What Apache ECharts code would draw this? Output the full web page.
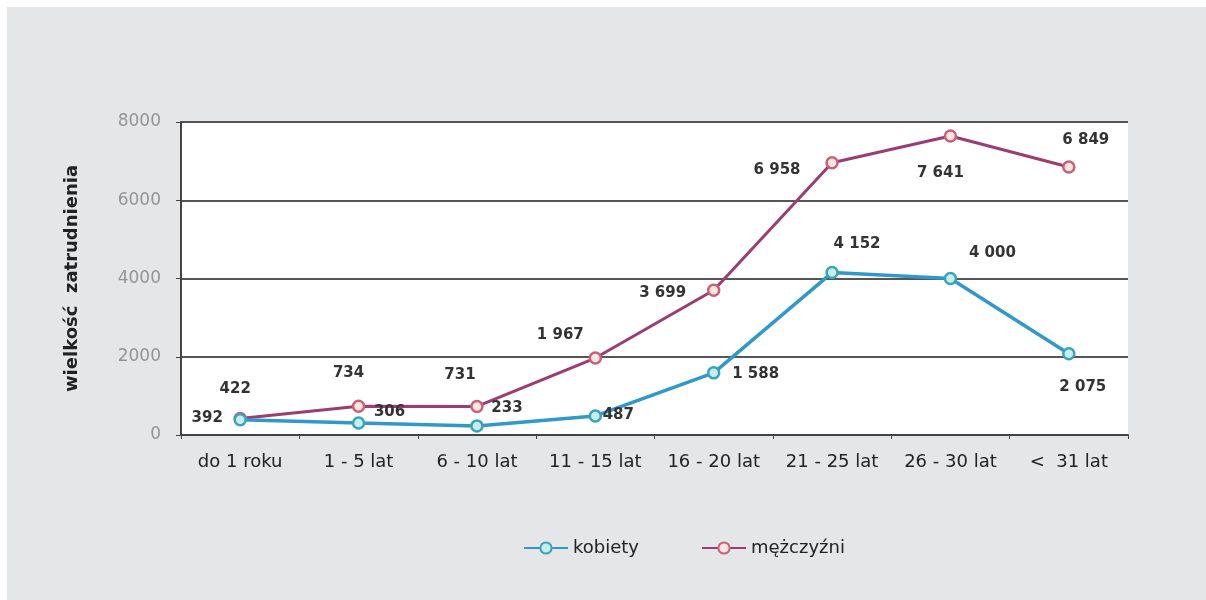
<!DOCTYPE html>
<html><head><meta charset="utf-8">
<script src="https://cdn.jsdelivr.net/npm/echarts@6/dist/echarts.min.js"></script>
<style>html,body{margin:0;padding:0;background:#fff;}#c{position:absolute;left:7px;top:7px;width:1199px;height:593px;}</style>
</head><body><div id="c"></div>
<script>
const categories = ['do 1 roku','1 - 5 lat','6 - 10 lat','11 - 15 lat','16 - 20 lat','21 - 25 lat','26 - 30 lat','<  31 lat'];
const kobiety = [392, 306, 233, 487, 1588, 4152, 4000, 2075];
const mezczyzni = [422, 734, 731, 1967, 3699, 6958, 7641, 6849];
const yTicks = [0, 2000, 4000, 6000, 8000];

// label offsets from the marker centre (style only)
const kobietyLabelOff = [[-33,-2],[31,-11],[30,-18],[23,-1],[42,1],[25,-28],[42,-25],[14,33]];
const mezczyzniLabelOff = [[-5,-29],[-10,-33],[-17,-31],[-35,-23],[-51,3],[-55,7],[-10,37],[17,-27]];

const FONT = 'DejaVu Sans, sans-serif';
function fmt(v){ return String(v).replace(/\B(?=(\d{3})+(?!\d))/g,' '); }
function build(vals,off){
  return vals.map((v,i)=>({value:v,label:{position:'inside',offset:off[i]}}));
}
const labelStyle = {show:true,color:'#333',fontWeight:'bold',fontSize:15,fontFamily:FONT,formatter:p=>fmt(p.value)};

const chart = echarts.init(document.getElementById('c'));
chart.setOption({
  backgroundColor:'#e5e6e8',
  animation:false,
  grid:{left:174,top:115,right:78,bottom:165,show:true,backgroundColor:'#ffffff',borderWidth:0},
  legend:{
    top:527,left:511,itemGap:62,itemWidth:44,itemHeight:14,
    textStyle:{fontSize:18,color:'#222',fontFamily:FONT},
    data:['kobiety','mężczyźni']
  },
  xAxis:{
    type:'category',data:categories,boundaryGap:true,
    axisLine:{lineStyle:{color:'#444',width:2}},
    axisTick:{show:true,interval:0,alignWithLabel:false,length:4,lineStyle:{color:'#444'}},
    axisLabel:{interval:0,fontSize:18,color:'#222',margin:18,fontFamily:FONT}
  },
  yAxis:{
    type:'value',min:0,max:8000,interval:2000,
    name:'wielkość  zatrudnienia',nameLocation:'middle',nameGap:100,
    nameTextStyle:{fontSize:18,fontWeight:'bold',color:'#222',fontFamily:FONT},
    axisLine:{show:true,lineStyle:{color:'#444',width:2}},
    axisTick:{show:true,length:5,lineStyle:{color:'#444'}},
    axisLabel:{fontSize:17,color:'#949494',margin:20,fontFamily:FONT,
      formatter:v=>yTicks.includes(v)?String(v):''},
    splitLine:{lineStyle:{color:'#555',width:2}}
  },
  series:[
    {name:'kobiety',type:'line',data:build(kobiety,kobietyLabelOff),
     symbol:'circle',symbolSize:11,
     lineStyle:{color:'#3199c9',width:3.5},
     itemStyle:{color:'#c5eef0',borderColor:'#3aa3b8',borderWidth:2.5},
     label:labelStyle,z:3},
    {name:'mężczyźni',type:'line',data:build(mezczyzni,mezczyzniLabelOff),
     symbol:'circle',symbolSize:11,
     lineStyle:{color:'#9c3d72',width:3},
     itemStyle:{color:'#fbe7dc',borderColor:'#c9607a',borderWidth:2.5},
     label:labelStyle,z:2}
  ]
});
</script></body></html>
